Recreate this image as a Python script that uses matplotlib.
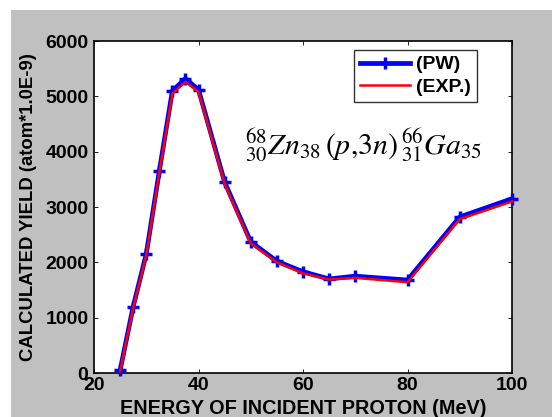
import matplotlib
matplotlib.use("Agg")
import matplotlib.pyplot as plt
from matplotlib.patches import Rectangle

energy = [25, 27.5, 30, 32.5, 35, 37.5, 40, 45, 50, 55, 60, 65, 70, 80, 90, 100]
pw = [50, 1200, 2150, 3650, 5100, 5320, 5120, 3450, 2370, 2020, 1830, 1700, 1750, 1680, 2820, 3150]
exp = [30, 1180, 2130, 3620, 5050, 5260, 5080, 3420, 2340, 2000, 1800, 1690, 1720, 1640, 2780, 3100]
xticks = [20, 40, 60, 80, 100]
yticks = [0, 1000, 2000, 3000, 4000, 5000, 6000]

plt.rcParams['font.family'] = ['Liberation Sans', 'DejaVu Sans']
plt.rcParams['mathtext.fontset'] = 'stix'

W, H = 552, 417
fig = plt.figure(figsize=(W/100, H/100), dpi=100)
fig.patch.set_facecolor('white')
fig.patches.append(Rectangle((11/W, 0), 1, 1 - 10/H, transform=fig.transFigure,
                             facecolor='#c0c0c0', edgecolor='none', zorder=-10))

ax = fig.add_axes([94/W, (H-373)/H, (512-94)/W, (373-41)/H])
ax.set_facecolor('white')
ax.plot(energy, pw, color='#0000ff', lw=3.4, marker='+', ms=8, mew=2.5, label='(PW)',
        clip_on=False, zorder=3)
ax.plot(energy, exp, color='#ff0000', lw=1.8, label='(EXP.)', clip_on=False, zorder=4)

ax.set_xlim(20, 100)
ax.set_ylim(0, 6000)
ax.set_xticks(xticks)
ax.set_yticks(yticks)
ax.tick_params(direction='in', length=3, width=0.6, top=True, right=True,
               labelsize=14)
ax.tick_params(axis='y', pad=4)
ax.tick_params(axis='x', pad=3)
for lab in ax.get_xticklabels() + ax.get_yticklabels():
    lab.set_fontweight('bold')
for s in ax.spines.values():
    s.set_linewidth(1.2)

ax.set_xlabel('ENERGY OF INCIDENT PROTON (MeV)', fontsize=14.3, fontweight='bold')
ax.xaxis.set_label_coords(0.5, -(399 - 373) / (373 - 41))
ax.xaxis.label.set_va('top')
ax.set_ylabel('CALCULATED YIELD (atom*1.0E-9)', fontsize=13.3, fontweight='bold', labelpad=6)

ax.text(0.362, 0.685, r'${}^{68}_{30}Zn_{38}\,(p{,}3n)\,{}^{66}_{31}Ga_{35}$',
        transform=ax.transAxes, fontsize=21.5, ha='left', va='center')

leg = ax.legend(loc='upper right', bbox_to_anchor=(0.925, 0.985), fontsize=14,
                frameon=True, fancybox=False, edgecolor='black', handlelength=2.6,
                borderpad=0.3, labelspacing=0.25, handletextpad=0.3, borderaxespad=0.2)
leg.get_frame().set_linewidth(1.0)
for t in leg.get_texts():
    t.set_fontweight('bold')

fig.savefig('out.png', dpi=100, facecolor=fig.get_facecolor())
